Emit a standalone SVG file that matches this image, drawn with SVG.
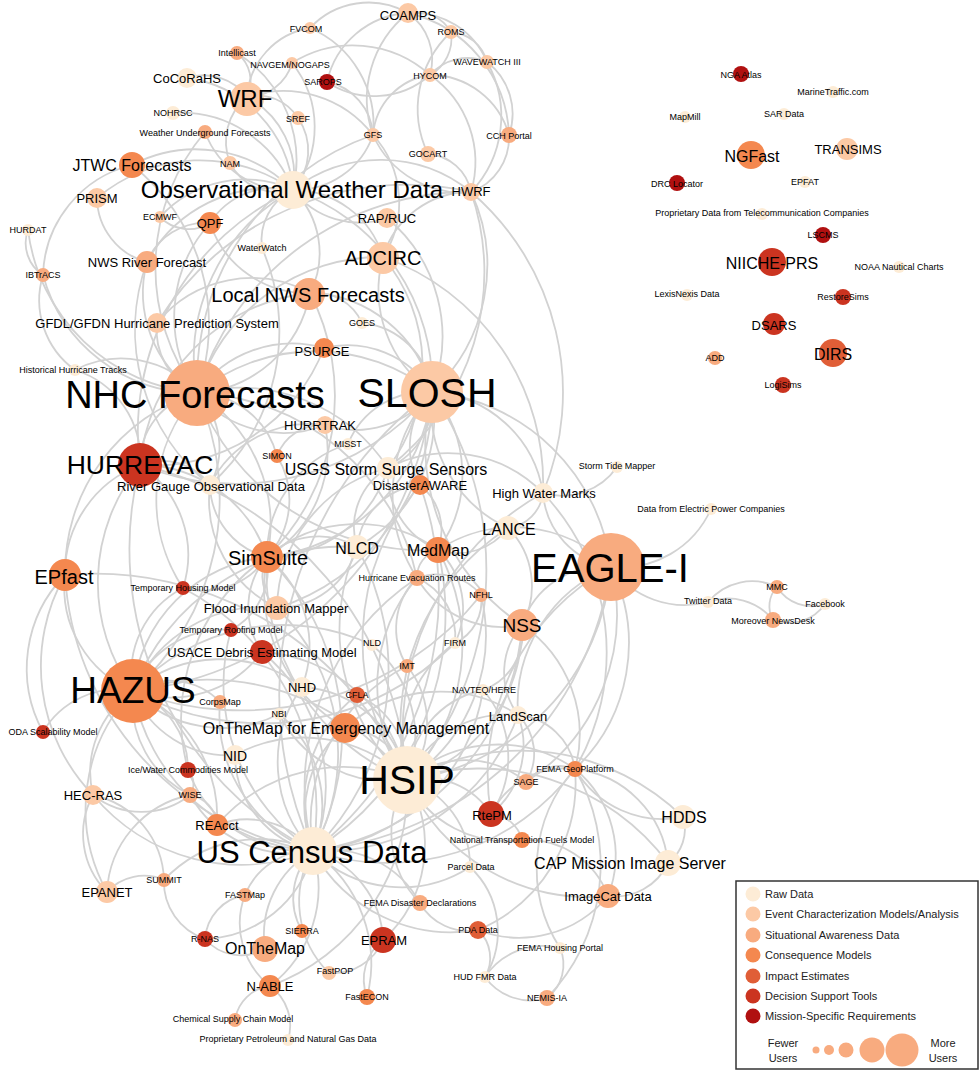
<svg xmlns="http://www.w3.org/2000/svg" width="980" height="1071" viewBox="0 0 980 1071">
<style>
.bg{fill:#fff}
#edges path{fill:none;stroke:#d2d2d2;stroke-width:1.8;stroke-linecap:round}
.raw{fill:#fdecd6}.evt{fill:#fcc9a5}.sit{fill:#f8ab7f}.con{fill:#f4884f}.imp{fill:#e05e37}.dec{fill:#cb3420}.mis{fill:#b01010}
text{font-family:"Liberation Sans",Arial,sans-serif;text-anchor:middle;dominant-baseline:central;fill:#000}
.s9{font-size:9px}.s13{font-size:13px}.s16{font-size:16px}.s20{font-size:20px}
.lg{font-size:11px;text-anchor:start;fill:#222}.lc{font-size:11px;fill:#222}
</style>
<rect class="bg" width="980" height="1071"/>
<g id="edges">
<path d="M310 28A80 80 0 0 1 408 13"/><path d="M408 13A40 40 0 0 1 451 32"/><path d="M451 32A40 40 0 0 1 487 62"/><path d="M408 13A80 80 0 0 1 487 62"/><path d="M408 13A57 57 0 0 1 430 75"/><path d="M451 32A42 42 0 0 1 430 75"/><path d="M430 75A50 50 0 0 1 487 62"/><path d="M292 63A115 115 0 0 1 430 75"/><path d="M327 82A88 88 0 0 1 408 13"/><path d="M327 82A85 85 0 0 0 430 75"/>
<path d="M487 62A65 65 0 0 1 509 135"/><path d="M408 13A130 130 0 0 1 509 135"/><path d="M430 75A82 82 0 0 1 509 135"/><path d="M310 28A105 105 0 0 1 373 135"/><path d="M408 13A110 110 0 0 0 373 135"/><path d="M430 75A66 66 0 0 0 373 135"/><path d="M451 32A105 105 0 0 0 428 154"/><path d="M430 75A106 106 0 0 1 471 192"/><path d="M487 62A110 110 0 0 1 471 192"/><path d="M509 135A58 58 0 0 1 471 192"/>
<path d="M373 135A97 97 0 0 0 471 192"/><path d="M428 154A47 47 0 0 1 471 192"/><path d="M373 135A82 82 0 0 1 293 190"/><path d="M247 97A89 89 0 0 1 293 190"/><path d="M247 97A113 113 0 0 1 373 135"/><path d="M247 97A58 58 0 0 0 230 163"/><path d="M247 97A47 47 0 0 1 298 118"/><path d="M187 78A54 54 0 0 1 247 97"/><path d="M237 53A36 36 0 0 1 247 97"/><path d="M292 63A47 47 0 0 1 247 97"/>
<path d="M310 28A75 75 0 0 0 247 97"/><path d="M173 113A120 120 0 0 1 293 190"/><path d="M205 132A89 89 0 0 0 293 190"/><path d="M205 132A210 210 0 0 0 197 393"/><path d="M132 165A203 203 0 0 1 197 393"/><path d="M132 165A117 117 0 0 0 43 275"/><path d="M28 230A38 38 0 0 0 43 275"/><path d="M43 275A86 86 0 0 0 75 370"/><path d="M43 275A160 160 0 0 0 197 393"/><path d="M28 230A187 187 0 0 0 197 393"/>
<path d="M97 198A160 160 0 0 1 293 190"/><path d="M97 198A67 67 0 0 0 147 262"/><path d="M160 217A115 115 0 0 1 293 190"/><path d="M160 217A40 40 0 0 0 210 223"/><path d="M210 223A77 77 0 0 1 293 190"/><path d="M210 223A63 63 0 0 0 147 262"/><path d="M210 223A140 140 0 0 0 197 393"/><path d="M210 223A102 102 0 0 0 310 293"/><path d="M147 262A140 140 0 0 1 293 190"/><path d="M147 262A120 120 0 0 0 197 393"/>
<path d="M147 262A198 198 0 0 0 210 485"/><path d="M262 248A206 206 0 0 1 210 485"/><path d="M262 248A56 56 0 0 1 293 190"/><path d="M293 190A88 88 0 0 1 310 293"/><path d="M293 190A193 193 0 0 0 197 393"/><path d="M293 190A143 143 0 0 1 471 192"/><path d="M293 190A84 84 0 0 0 387 218"/><path d="M293 190A94 94 0 0 1 383 257"/><path d="M293 190A206 206 0 0 1 432 392"/><path d="M293 190A265 265 0 0 0 140 465"/>
<path d="M310 293A122 122 0 0 1 197 393"/><path d="M310 293A190 190 0 0 0 140 465"/><path d="M310 293A130 130 0 0 1 432 392"/><path d="M310 293A51 51 0 0 1 362 323"/><path d="M310 293A225 225 0 0 1 267 557"/><path d="M157 323A69 69 0 0 0 197 393"/><path d="M157 323A122 122 0 0 1 310 293"/><path d="M157 323A293 293 0 0 1 471 192"/><path d="M373 135A262 262 0 0 0 197 393"/><path d="M373 135A100 100 0 0 1 383 257"/>
<path d="M471 192A173 173 0 0 1 432 392"/><path d="M471 192A91 91 0 0 0 383 257"/><path d="M471 192A283 283 0 0 0 197 393"/><path d="M471 192A264 264 0 0 1 543 493"/><path d="M471 192A247 247 0 0 1 388 468"/><path d="M387 218A154 154 0 0 1 432 392"/><path d="M383 257A124 124 0 0 0 432 392"/><path d="M383 257A192 192 0 0 0 197 393"/><path d="M383 257A169 169 0 0 1 388 468"/><path d="M383 257A240 240 0 0 1 543 493"/>
<path d="M362 323A78 78 0 0 1 432 392"/><path d="M324 348A100 100 0 0 1 432 392"/><path d="M324 348A116 116 0 0 0 197 393"/><path d="M324 348A183 183 0 0 1 140 465"/><path d="M197 393A188 188 0 0 1 432 392"/><path d="M197 393A72 72 0 0 0 140 465"/><path d="M197 393A113 113 0 0 0 325 425"/><path d="M197 393A154 154 0 0 1 267 557"/><path d="M197 393A257 257 0 0 1 133 691"/><path d="M197 393A188 188 0 0 0 65 575"/>
<path d="M197 393A160 160 0 0 0 183 588"/><path d="M197 393A100 100 0 0 0 75 370"/><path d="M197 393A78 78 0 0 1 210 485"/><path d="M197 393A84 84 0 0 1 277 456"/><path d="M197 393A243 243 0 0 0 438 550"/><path d="M197 393A177 177 0 0 1 388 468"/><path d="M197 393A235 235 0 0 1 417 578"/><path d="M432 392A255 255 0 0 1 140 465"/><path d="M432 392A96 96 0 0 1 325 425"/><path d="M432 392A84 84 0 0 0 348 444"/>
<path d="M432 392A75 75 0 0 1 388 468"/><path d="M432 392A78 78 0 0 0 420 485"/><path d="M432 392A120 120 0 0 1 543 493"/><path d="M432 392A133 133 0 0 0 508 528"/><path d="M432 392A128 128 0 0 1 438 550"/><path d="M432 392A154 154 0 0 0 417 578"/><path d="M432 392A148 148 0 0 1 357 547"/><path d="M432 392A185 185 0 0 1 267 557"/><path d="M432 392A335 335 0 0 1 133 691"/><path d="M432 392A318 318 0 0 1 407 780"/>
<path d="M432 392A222 222 0 0 1 277 608"/><path d="M432 392A200 200 0 0 1 611 567"/><path d="M432 392A215 215 0 0 0 522 625"/><path d="M432 392A377 377 0 0 0 313 851"/><path d="M140 465A116 116 0 0 0 65 575"/><path d="M140 465A185 185 0 0 0 133 691"/><path d="M140 465A133 133 0 0 1 267 557"/><path d="M140 465A60 60 0 0 1 210 485"/><path d="M140 465A340 340 0 0 0 313 851"/><path d="M140 465A342 342 0 0 1 407 780"/>
<path d="M325 425A48 48 0 0 0 277 456"/><path d="M325 425A124 124 0 0 1 267 557"/><path d="M277 456A84 84 0 0 1 267 557"/><path d="M210 485A76 76 0 0 0 267 557"/><path d="M210 485A120 120 0 0 0 277 608"/><path d="M388 468A132 132 0 0 1 543 493"/><path d="M388 468A147 147 0 0 0 277 608"/><path d="M388 468A126 126 0 0 1 267 557"/><path d="M388 468A82 82 0 0 0 438 550"/><path d="M420 485A58 58 0 0 1 438 550"/>
<path d="M420 485A240 240 0 0 0 407 780"/><path d="M420 485A325 325 0 0 1 313 851"/><path d="M543 493A67 67 0 0 0 617 467"/><path d="M543 493A40 40 0 0 1 508 528"/><path d="M543 493A81 81 0 0 0 611 567"/><path d="M543 493A231 231 0 0 1 575 769"/><path d="M543 493A273 273 0 0 0 407 780"/><path d="M508 528A63 63 0 0 1 438 550"/><path d="M508 528A82 82 0 0 1 522 625"/><path d="M508 528A234 234 0 0 0 407 780"/>
<path d="M611 567A99 99 0 0 0 711 509"/><path d="M611 567A90 90 0 0 0 708 602"/><path d="M708 602A57 57 0 0 1 777 587"/><path d="M708 602A58 58 0 0 1 773 620"/><path d="M777 587A28 28 0 0 0 773 620"/><path d="M777 587A41 41 0 0 0 825 604"/><path d="M825 604A44 44 0 0 1 773 620"/><path d="M611 567A84 84 0 0 0 522 625"/><path d="M611 567A138 138 0 0 0 438 550"/><path d="M611 567A235 235 0 0 1 407 780"/>
<path d="M611 567A173 173 0 0 1 575 769"/><path d="M611 567A148 148 0 0 0 518 715"/><path d="M611 567A199 199 0 0 1 526 782"/><path d="M611 567A236 236 0 0 0 491 814"/><path d="M611 567A333 333 0 0 1 313 851"/><path d="M438 550A194 194 0 0 1 407 780"/><path d="M438 550A28 28 0 0 0 417 578"/><path d="M438 550A278 278 0 0 1 313 851"/><path d="M438 550A139 139 0 0 0 267 557"/><path d="M417 578A165 165 0 0 0 407 780"/>
<path d="M417 578A57 57 0 0 1 481 595"/><path d="M417 578A250 250 0 0 0 313 851"/><path d="M417 578A99 99 0 0 0 522 625"/><path d="M481 595A46 46 0 0 1 455 643"/><path d="M481 595A172 172 0 0 1 407 780"/><path d="M481 595A308 308 0 0 1 133 691"/><path d="M522 625A160 160 0 0 1 407 780"/><path d="M522 625A132 132 0 0 1 575 769"/><path d="M522 625A72 72 0 0 0 518 715"/><path d="M522 625A245 245 0 0 1 313 851"/>
<path d="M522 625A60 60 0 0 1 483 690"/><path d="M357 547A224 224 0 0 0 133 691"/><path d="M357 547A75 75 0 0 0 267 557"/><path d="M357 547A255 255 0 0 1 313 851"/><path d="M357 547A202 202 0 0 0 407 780"/><path d="M357 547A83 83 0 0 1 277 608"/><path d="M267 557A150 150 0 0 0 133 691"/><path d="M267 557A248 248 0 0 1 313 851"/><path d="M267 557A223 223 0 0 0 407 780"/><path d="M267 557A77 77 0 0 1 183 588"/>
<path d="M267 557A42 42 0 0 0 277 608"/><path d="M267 557A70 70 0 0 1 231 630"/><path d="M267 557A78 78 0 0 0 262 652"/><path d="M267 557A162 162 0 0 0 345 728"/><path d="M267 557A115 115 0 0 1 302 687"/><path d="M267 557A196 196 0 0 0 188 770"/><path d="M65 575A112 112 0 0 0 133 691"/><path d="M65 575A298 298 0 0 0 313 851"/><path d="M65 575A340 340 0 0 1 407 780"/><path d="M183 588A96 96 0 0 0 133 691"/>
<path d="M183 588A250 250 0 0 1 313 851"/><path d="M277 608A141 141 0 0 0 133 691"/><path d="M277 608A203 203 0 0 1 313 851"/><path d="M231 630A200 200 0 0 0 313 851"/><path d="M231 630A97 97 0 0 0 133 691"/><path d="M262 652A114 114 0 0 1 133 691"/><path d="M262 652A173 173 0 0 1 313 851"/><path d="M262 652A157 157 0 0 1 407 780"/><path d="M372 645A119 119 0 0 1 407 780"/><path d="M372 645A205 205 0 0 0 133 691"/>
<path d="M455 643A272 272 0 0 1 133 691"/><path d="M455 643A125 125 0 0 0 407 780"/><path d="M407 666A91 91 0 0 1 407 780"/><path d="M407 666A176 176 0 0 0 313 851"/><path d="M357 695A84 84 0 0 1 407 780"/><path d="M357 695A137 137 0 0 0 313 851"/><path d="M483 690A96 96 0 0 0 407 780"/><path d="M483 690A102 102 0 0 1 491 814"/><path d="M483 690A190 190 0 0 1 313 851"/><path d="M133 691A195 195 0 0 0 313 851"/>
<path d="M133 691A249 249 0 0 1 407 780"/><path d="M133 691A98 98 0 0 0 93 795"/><path d="M133 691A86 86 0 0 0 43 732"/><path d="M133 691A70 70 0 0 1 220 702"/><path d="M133 691A135 135 0 0 1 302 687"/><path d="M133 691A103 103 0 0 0 235 755"/><path d="M133 691A83 83 0 0 1 188 770"/><path d="M133 691A104 104 0 0 0 190 795"/><path d="M133 691A137 137 0 0 1 217 825"/><path d="M133 691A171 171 0 0 0 107 892"/>
<path d="M133 691A125 125 0 0 0 279 714"/><path d="M220 702A146 146 0 0 0 313 851"/><path d="M302 687A114 114 0 0 1 407 780"/><path d="M302 687A129 129 0 0 0 313 851"/><path d="M279 714A123 123 0 0 0 407 780"/><path d="M279 714A118 118 0 0 1 313 851"/><path d="M345 728A66 66 0 0 1 407 780"/><path d="M345 728A106 106 0 0 0 313 851"/><path d="M345 728A142 142 0 0 1 518 715"/><path d="M235 755A99 99 0 0 0 313 851"/>
<path d="M235 755A146 146 0 0 1 407 780"/><path d="M188 770A125 125 0 0 0 313 851"/><path d="M188 770A20 20 0 0 1 190 795"/><path d="M93 795A78 78 0 0 0 190 795"/><path d="M93 795A82 82 0 0 0 107 892"/><path d="M93 795A193 193 0 0 0 313 851"/><path d="M190 795A115 115 0 0 0 313 851"/><path d="M190 795A32 32 0 0 1 217 825"/><path d="M190 795A104 104 0 0 0 107 892"/><path d="M217 825A84 84 0 0 1 313 851"/>
<path d="M217 825A166 166 0 0 1 407 780"/><path d="M107 892A50 50 0 0 1 164 880"/><path d="M164 880A130 130 0 0 1 313 851"/><path d="M164 880A60 60 0 0 0 205 939"/><path d="M93 795A90 90 0 0 1 164 880"/><path d="M205 939A48 48 0 0 1 245 895"/><path d="M205 939A115 115 0 0 0 313 851"/><path d="M205 939A48 48 0 0 0 265 949"/><path d="M245 895A70 70 0 0 1 313 851"/><path d="M245 895A80 80 0 0 0 270 986"/>
<path d="M302 931A66 66 0 0 1 313 851"/><path d="M265 949A96 96 0 0 1 313 851"/><path d="M270 986A124 124 0 0 0 313 851"/><path d="M270 986A40 40 0 0 0 235 1020"/><path d="M270 986A49 49 0 0 1 288 1040"/><path d="M270 986A209 209 0 0 0 407 780"/><path d="M329 973A54 54 0 0 0 383 940"/><path d="M367 997A50 50 0 0 1 383 940"/><path d="M383 940A96 96 0 0 0 313 851"/><path d="M383 940A128 128 0 0 0 407 780"/>
<path d="M329 973A100 100 0 0 1 313 851"/><path d="M367 997A137 137 0 0 0 313 851"/><path d="M420 903A103 103 0 0 0 313 851"/><path d="M420 903A55 55 0 0 0 478 930"/><path d="M420 903A99 99 0 0 1 407 780"/><path d="M478 930A115 115 0 0 0 608 896"/><path d="M478 930A38 38 0 0 1 485 977"/><path d="M478 930A160 160 0 0 0 575 769"/><path d="M478 930A158 158 0 0 1 313 851"/><path d="M485 977A70 70 0 0 1 560 948"/>
<path d="M485 977A56 56 0 0 0 547 998"/><path d="M560 948A42 42 0 0 1 547 998"/><path d="M560 948A148 148 0 0 1 575 769"/><path d="M547 998A192 192 0 0 0 575 769"/><path d="M470 867A90 90 0 0 0 407 780"/><path d="M470 867A126 126 0 0 1 313 851"/><path d="M470 867A88 88 0 0 1 485 977"/><path d="M522 840A34 34 0 0 0 491 814"/><path d="M522 840A111 111 0 0 1 407 780"/><path d="M491 814A78 78 0 0 0 407 780"/>
<path d="M491 814A88 88 0 0 0 518 715"/><path d="M491 814A82 82 0 0 1 575 769"/><path d="M526 782A95 95 0 0 0 407 780"/><path d="M526 782A43 43 0 0 1 575 769"/><path d="M526 782A54 54 0 0 0 518 715"/><path d="M518 715A110 110 0 0 0 407 780"/><path d="M518 715A63 63 0 0 1 575 769"/><path d="M518 715A206 206 0 0 1 313 851"/><path d="M575 769A134 134 0 0 0 407 780"/><path d="M575 769A102 102 0 0 0 683 817"/>
<path d="M575 769A105 105 0 0 1 668 863"/><path d="M575 769A112 112 0 0 1 608 896"/><path d="M575 769A235 235 0 0 1 313 851"/><path d="M683 817A42 42 0 0 1 668 863"/><path d="M668 863A58 58 0 0 1 608 896"/><path d="M608 896A86 86 0 0 0 522 840"/><path d="M608 896A198 198 0 0 1 407 780"/><path d="M668 863A235 235 0 0 0 407 780"/><path d="M683 817A233 233 0 0 0 407 780"/><path d="M438 550A80 80 0 0 1 455 643"/>
<path d="M417 578A71 71 0 0 0 407 666"/><path d="M417 578A64 64 0 0 1 455 643"/><path d="M420 485A70 70 0 0 0 357 547"/><path d="M348 444A116 116 0 0 0 267 557"/><path d="M388 468A68 68 0 0 0 357 547"/><path d="M325 425A111 111 0 0 0 210 485"/><path d="M132 165A137 137 0 0 1 293 190"/><path d="M187 78A123 123 0 0 1 293 190"/><path d="M237 53A127 127 0 0 1 293 190"/><path d="M298 118A58 58 0 0 1 293 190"/>
<path d="M230 163A54 54 0 0 0 293 190"/><path d="M292 63A102 102 0 0 1 293 190"/><path d="M327 82A57 57 0 0 1 373 135"/><path d="M75 370A93 93 0 0 1 140 465"/><path d="M140 465A108 108 0 0 1 183 588"/><path d="M65 575A185 185 0 0 0 93 795"/><path d="M65 575A133 133 0 0 0 43 732"/>
</g>
<g id="nodes">
<g id="n-nhc"><circle class="sit" cx="197" cy="393" r="33"/><text x="195" y="395" font-size="38">NHC Forecasts</text></g>
<g id="n-slosh"><circle class="evt" cx="432" cy="392" r="31"/><text x="427" y="393" font-size="41">SLOSH</text></g>
<g id="n-eagle"><circle class="sit" cx="611" cy="567" r="34"/><text x="610" y="568" font-size="40">EAGLE-I</text></g>
<g id="n-hsip"><circle class="raw" cx="407" cy="780" r="34"/><text x="407" y="780" font-size="41">HSIP</text></g>
<g id="n-hazus"><circle class="con" cx="133" cy="691" r="32"/><text x="133" y="690" font-size="37">HAZUS</text></g>
<g id="n-usc"><circle class="raw" cx="313" cy="851" r="24"/><text x="312" y="852" font-size="31">US Census Data</text></g>
<g id="n-hurrevac"><circle class="dec" cx="140" cy="465" r="22"/><text x="140" y="465" font-size="26.5">HURREVAC</text></g>
<g id="n-owd"><circle class="raw" cx="293" cy="190" r="19"/><text x="292" y="189" font-size="24">Observational Weather Data</text></g>
<g id="n-lnws"><circle class="sit" cx="309" cy="294" r="16"/><text x="308" y="295" class="s20">Local NWS Forecasts</text></g>
<g id="n-adcirc"><circle class="evt" cx="383" cy="258" r="16"/><text x="383" y="258" class="s20">ADCIRC</text></g>
<g id="n-wrf"><circle class="evt" cx="247" cy="99" r="17"/><text x="245" y="98" font-size="24">WRF</text></g>
<g id="n-simsuite"><circle class="con" cx="267" cy="557" r="16"/><text x="268" y="558" class="s20">SimSuite</text></g>
<g id="n-epfast"><circle class="con" cx="65" cy="575" r="16"/><text x="64" y="577" class="s20">EPfast</text></g>
<g id="n-nss"><circle class="sit" cx="522" cy="625" r="16"/><text x="522" y="625" font-size="19">NSS</text></g>
<g id="n-otmem"><circle class="con" cx="345" cy="728" r="15"/><text x="346" y="728" class="s16">OnTheMap for Emergency Management</text></g>
<g id="n-ngfast"><circle class="con" cx="751" cy="155" r="14"/><text x="752" y="156" class="s16">NGFast</text></g>
<g id="n-niiche"><circle class="dec" cx="772" cy="262" r="14"/><text x="772" y="263" class="s16">NIICHE-PRS</text></g>
<g id="n-dirs"><circle class="imp" cx="833" cy="353" r="14"/><text x="833" y="354" class="s16">DIRS</text></g>
<g id="n-otm"><circle class="sit" cx="265" cy="949" r="13"/><text x="265" y="948" class="s16">OnTheMap</text></g>
<g id="n-medmap"><circle class="con" cx="438" cy="550" r="13"/><text x="438" y="550" class="s16">MedMap</text></g>
<g id="n-jtwc"><circle class="con" cx="132" cy="165" r="13"/><text x="132" y="165" class="s16">JTWC Forecasts</text></g>
<g id="n-cap"><circle class="raw" cx="668" cy="863" r="13"/><text x="630" y="863" class="s16">CAP Mission Image Server</text></g>
<g id="n-hdds"><circle class="raw" cx="683" cy="817" r="12"/><text x="684" y="817" class="s16">HDDS</text></g>
<g id="n-lance"><circle class="raw" cx="508" cy="528" r="12"/><text x="509" y="529" class="s16">LANCE</text></g>
<g id="n-nlcd"><circle class="raw" cx="357" cy="547" r="12"/><text x="357" y="548" class="s16">NLCD</text></g>
<g id="n-usgs"><circle class="raw" cx="388" cy="468" r="11"/><text x="386" y="469" class="s16">USGS Storm Surge Sensors</text></g>
<g id="n-rtepm"><circle class="dec" cx="491" cy="814" r="13"/><text x="492" y="815" class="s13">RtePM</text></g>
<g id="n-epram"><circle class="dec" cx="383" cy="940" r="13"/><text x="384" y="940" class="s13">EPRAM</text></g>
<g id="n-imagecat"><circle class="sit" cx="608" cy="896" r="12"/><text x="608" y="896" class="s13">ImageCat Data</text></g>
<g id="n-hwm"><circle class="raw" cx="543" cy="493" r="10"/><text x="544" y="493" class="s13">High Water Marks</text></g>
<g id="n-fim"><circle class="evt" cx="277" cy="608" r="12"/><text x="276" y="608" class="s13">Flood Inundation Mapper</text></g>
<g id="n-usace"><circle class="dec" cx="262" cy="652" r="12"/><text x="262" y="652" class="s13">USACE Debris Estimating Model</text></g>
<g id="n-transims"><circle class="evt" cx="847" cy="149" r="11"/><text x="848" y="149" class="s13">TRANSIMS</text></g>
<g id="n-dsars"><circle class="dec" cx="774" cy="324" r="11"/><text x="774" y="325" class="s13">DSARS</text></g>
<g id="n-cocorahs"><circle class="raw" cx="187" cy="78" r="10"/><text x="187" y="78" class="s13">CoCoRaHS</text></g>
<g id="n-coamps"><circle class="evt" cx="408" cy="13" r="10"/><text x="408" y="15" class="s13">COAMPS</text></g>
<g id="n-prism"><circle class="evt" cx="97" cy="198" r="10"/><text x="97" y="198" class="s13">PRISM</text></g>
<g id="n-qpf"><circle class="con" cx="210" cy="223" r="11"/><text x="210" y="223" class="s13">QPF</text></g>
<g id="n-nwsrf"><circle class="sit" cx="147" cy="262" r="11"/><text x="147" y="262" class="s13">NWS River Forecast</text></g>
<g id="n-gfdl"><circle class="evt" cx="157" cy="323" r="10"/><text x="157" y="323" class="s13">GFDL/GFDN Hurricane Prediction System</text></g>
<g id="n-raprus"><circle class="evt" cx="387" cy="218" r="10"/><text x="387" y="218" class="s13">RAP/RUC</text></g>
<g id="n-hwrf"><circle class="evt" cx="471" cy="192" r="9"/><text x="471" y="191" class="s13">HWRF</text></g>
<g id="n-psurge"><circle class="con" cx="324" cy="348" r="10"/><text x="322" y="351" class="s13">PSURGE</text></g>
<g id="n-hurrtrak"><circle class="evt" cx="325" cy="425" r="9"/><text x="320" y="425" class="s13">HURRTRAK</text></g>
<g id="n-rg"><circle class="raw" cx="210" cy="485" r="10"/><text x="211" y="486" class="s13">River Gauge Observational Data</text></g>
<g id="n-daware"><circle class="con" cx="420" cy="485" r="10"/><text x="420" y="485" class="s13">DisasterAWARE</text></g>
<g id="n-nhd"><circle class="raw" cx="302" cy="687" r="10"/><text x="302" y="687" class="s13">NHD</text></g>
<g id="n-nid"><circle class="raw" cx="235" cy="755" r="10"/><text x="235" y="756" font-size="14">NID</text></g>
<g id="n-hecras"><circle class="evt" cx="93" cy="795" r="10"/><text x="93" y="795" class="s13">HEC-RAS</text></g>
<g id="n-reacct"><circle class="con" cx="217" cy="825" r="11"/><text x="217" y="825" class="s13">REAcct</text></g>
<g id="n-epanet"><circle class="evt" cx="107" cy="892" r="11"/><text x="107" y="892" class="s13">EPANET</text></g>
<g id="n-nable"><circle class="con" cx="270" cy="986" r="11"/><text x="270" y="986" class="s13">N-ABLE</text></g>
<g id="n-landscan"><circle class="raw" cx="518" cy="715" r="9"/><text x="518" y="716" class="s13">LandScan</text></g>
<g id="n-fvcom"><circle class="evt" cx="310" cy="28" r="6"/><text x="306" y="29" class="s9">FVCOM</text></g>
<g id="n-intellicast"><circle class="sit" cx="237" cy="53" r="7"/><text x="237" y="53" class="s9">Intellicast</text></g>
<g id="n-navgem"><circle class="evt" cx="292" cy="63" r="6"/><text x="290" y="65" class="s9">NAVGEM/NOGAPS</text></g>
<g id="n-sarops"><circle class="mis" cx="327" cy="82" r="8"/><text x="323" y="82" class="s9">SAROPS</text></g>
<g id="n-nohrsc"><circle class="raw" cx="173" cy="113" r="7"/><text x="173" y="113" class="s9">NOHRSC</text></g>
<g id="n-sref"><circle class="evt" cx="298" cy="118" r="7"/><text x="298" y="119" class="s9">SREF</text></g>
<g id="n-wu"><circle class="sit" cx="205" cy="132" r="7"/><text x="205" y="133" class="s9">Weather Underground Forecasts</text></g>
<g id="n-nam"><circle class="evt" cx="230" cy="163" r="7"/><text x="230" y="164" class="s9">NAM</text></g>
<g id="n-ecmwf"><circle class="evt" cx="160" cy="217" r="6"/><text x="160" y="217" class="s9">ECMWF</text></g>
<g id="n-hurdat"><circle class="raw" cx="28" cy="230" r="6"/><text x="28" y="230" class="s9">HURDAT</text></g>
<g id="n-waterwatch"><circle class="raw" cx="262" cy="248" r="6"/><text x="262" y="248" class="s9">WaterWatch</text></g>
<g id="n-ibtracs"><circle class="sit" cx="43" cy="275" r="7"/><text x="43" y="275" class="s9">IBTrACS</text></g>
<g id="n-roms"><circle class="evt" cx="451" cy="32" r="7"/><text x="451" y="32" class="s9">ROMS</text></g>
<g id="n-ww3"><circle class="evt" cx="487" cy="62" r="7"/><text x="487" y="62" class="s9">WAVEWATCH III</text></g>
<g id="n-hycom"><circle class="evt" cx="430" cy="75" r="7"/><text x="430" y="76" class="s9">HYCOM</text></g>
<g id="n-gfs"><circle class="evt" cx="373" cy="135" r="7"/><text x="373" y="135" class="s9">GFS</text></g>
<g id="n-cch"><circle class="sit" cx="509" cy="135" r="8"/><text x="509" y="136" class="s9">CCH Portal</text></g>
<g id="n-gocart"><circle class="evt" cx="428" cy="154" r="8"/><text x="428" y="154" class="s9">GOCART</text></g>
<g id="n-goes"><circle class="raw" cx="362" cy="323" r="6"/><text x="362" y="323" class="s9">GOES</text></g>
<g id="n-hht"><circle class="raw" cx="75" cy="370" r="6"/><text x="73" y="370" class="s9">Historical Hurricane Tracks</text></g>
<g id="n-misst"><circle class="raw" cx="348" cy="444" r="6"/><text x="348" y="444" class="s9">MISST</text></g>
<g id="n-simon"><circle class="con" cx="277" cy="456" r="7"/><text x="277" y="456" class="s9">SIMON</text></g>
<g id="n-stm"><circle class="raw" cx="617" cy="467" r="6"/><text x="617" y="466" class="s9">Storm Tide Mapper</text></g>
<g id="n-her"><circle class="sit" cx="417" cy="578" r="8"/><text x="417" y="578" class="s9">Hurricane Evacuation Routes</text></g>
<g id="n-nfhl"><circle class="sit" cx="481" cy="595" r="7"/><text x="481" y="595" class="s9">NFHL</text></g>
<g id="n-thm"><circle class="dec" cx="183" cy="588" r="7"/><text x="183" y="588" class="s9">Temporary Housing Model</text></g>
<g id="n-trm"><circle class="dec" cx="231" cy="630" r="7"/><text x="231" y="630" class="s9">Temporary Roofing Model</text></g>
<g id="n-nld"><circle class="raw" cx="372" cy="645" r="6"/><text x="372" y="643" class="s9">NLD</text></g>
<g id="n-firm"><circle class="raw" cx="455" cy="643" r="6"/><text x="455" y="643" class="s9">FIRM</text></g>
<g id="n-imt"><circle class="sit" cx="407" cy="666" r="7"/><text x="407" y="666" class="s9">IMT</text></g>
<g id="n-corpsmap"><circle class="sit" cx="220" cy="702" r="7"/><text x="220" y="702" class="s9">CorpsMap</text></g>
<g id="n-cfla"><circle class="imp" cx="357" cy="695" r="8"/><text x="357" y="695" class="s9">CFLA</text></g>
<g id="n-navteq"><circle class="raw" cx="483" cy="690" r="6"/><text x="484" y="690" class="s9">NAVTEQ/HERE</text></g>
<g id="n-nbi"><circle class="raw" cx="279" cy="714" r="6"/><text x="279" y="714" class="s9">NBI</text></g>
<g id="n-oda"><circle class="dec" cx="43" cy="732" r="7"/><text x="53" y="732" class="s9">ODA Scalability Model</text></g>
<g id="n-ice"><circle class="dec" cx="188" cy="770" r="8"/><text x="188" y="770" class="s9">Ice/Water Commodities Model</text></g>
<g id="n-wise"><circle class="sit" cx="190" cy="795" r="8"/><text x="190" y="795" class="s9">WISE</text></g>
<g id="n-femageo"><circle class="con" cx="575" cy="769" r="8"/><text x="575" y="769" class="s9">FEMA GeoPlatform</text></g>
<g id="n-sage"><circle class="sit" cx="526" cy="782" r="8"/><text x="526" y="782" class="s9">SAGE</text></g>
<g id="n-ntfm"><circle class="con" cx="522" cy="840" r="8"/><text x="522" y="840" class="s9">National Transportation Fuels Model</text></g>
<g id="n-parcel"><circle class="raw" cx="470" cy="867" r="6"/><text x="471" y="867" class="s9">Parcel Data</text></g>
<g id="n-summit"><circle class="sit" cx="164" cy="880" r="7"/><text x="164" y="880" class="s9">SUMMIT</text></g>
<g id="n-fastmap"><circle class="sit" cx="245" cy="895" r="7"/><text x="245" y="895" class="s9">FASTMap</text></g>
<g id="n-femadd"><circle class="sit" cx="420" cy="903" r="8"/><text x="420" y="903" class="s9">FEMA Disaster Declarations</text></g>
<g id="n-pda"><circle class="imp" cx="478" cy="930" r="9"/><text x="478" y="930" class="s9">PDA Data</text></g>
<g id="n-sierra"><circle class="con" cx="302" cy="931" r="7"/><text x="302" y="931" class="s9">SIERRA</text></g>
<g id="n-rnas"><circle class="dec" cx="205" cy="939" r="8"/><text x="205" y="939" class="s9">R-NAS</text></g>
<g id="n-fhp"><circle class="raw" cx="560" cy="948" r="6"/><text x="560" y="948" class="s9">FEMA Housing Portal</text></g>
<g id="n-fastpop"><circle class="evt" cx="329" cy="973" r="7"/><text x="335" y="971" class="s9">FastPOP</text></g>
<g id="n-hud"><circle class="raw" cx="485" cy="977" r="6"/><text x="485" y="977" class="s9">HUD FMR Data</text></g>
<g id="n-fastecon"><circle class="con" cx="367" cy="997" r="8"/><text x="367" y="997" class="s9">FastECON</text></g>
<g id="n-nemis"><circle class="sit" cx="547" cy="998" r="8"/><text x="547" y="998" class="s9">NEMIS-IA</text></g>
<g id="n-cscm"><circle class="sit" cx="235" cy="1020" r="7"/><text x="233" y="1019" class="s9">Chemical Supply Chain Model</text></g>
<g id="n-ppng"><circle class="raw" cx="288" cy="1040" r="6"/><text x="288" y="1039" class="s9">Proprietary Petroleum and Natural Gas Data</text></g>
<g id="n-depc"><circle class="raw" cx="711" cy="509" r="6"/><text x="711" y="509" class="s9">Data from Electric Power Companies</text></g>
<g id="n-twitter"><circle class="raw" cx="708" cy="602" r="6"/><text x="708" y="601" class="s9">Twitter Data</text></g>
<g id="n-mmc"><circle class="sit" cx="777" cy="587" r="7"/><text x="777" y="587" class="s9">MMC</text></g>
<g id="n-facebook"><circle class="raw" cx="825" cy="604" r="6"/><text x="825" y="604" class="s9">Facebook</text></g>
<g id="n-moreover"><circle class="sit" cx="773" cy="620" r="8"/><text x="773" y="621" class="s9">Moreover NewsDesk</text></g>
<g id="n-nga"><circle class="mis" cx="741" cy="74" r="8"/><text x="741" y="75" class="s9">NGA Atlas</text></g>
<g id="n-marinetraffic"><circle class="raw" cx="833" cy="92" r="6"/><text x="833" y="92" class="s9">MarineTraffic.com</text></g>
<g id="n-mapmill"><circle class="raw" cx="685" cy="117" r="6"/><text x="685" y="117" class="s9">MapMill</text></g>
<g id="n-sardata"><circle class="raw" cx="784" cy="114" r="6"/><text x="784" y="114" class="s9">SAR Data</text></g>
<g id="n-drc"><circle class="mis" cx="677" cy="183" r="8"/><text x="677" y="184" class="s9">DRC Locator</text></g>
<g id="n-epfat"><circle class="raw" cx="805" cy="182" r="6"/><text x="805" y="182" class="s9">EPFAT</text></g>
<g id="n-telecom"><circle class="raw" cx="762" cy="214" r="6"/><text x="762" y="213" class="s9">Proprietary Data from Telecommunication Companies</text></g>
<g id="n-lscms"><circle class="mis" cx="823" cy="235" r="8"/><text x="823" y="235" class="s9">LSCMS</text></g>
<g id="n-noaa"><circle class="raw" cx="899" cy="267" r="6"/><text x="899" y="267" class="s9">NOAA Nautical Charts</text></g>
<g id="n-lexis"><circle class="raw" cx="687" cy="295" r="6"/><text x="687" y="294" class="s9">LexisNexis Data</text></g>
<g id="n-restoresims"><circle class="dec" cx="843" cy="297" r="8"/><text x="843" y="297" class="s9">RestoreSims</text></g>
<g id="n-add"><circle class="sit" cx="715" cy="358" r="7"/><text x="715" y="358" class="s9">ADD</text></g>
<g id="n-logisims"><circle class="dec" cx="783" cy="385" r="8"/><text x="783" y="385" class="s9">LogiSims</text></g>
</g>
<g id="legend">
<rect x="736" y="881" width="242" height="188" fill="#fff" stroke="#333" stroke-width="1.5"/>
<circle class="raw" cx="753" cy="894" r="7.5"/><text class="lg" x="765" y="894">Raw Data</text>
<circle class="evt" cx="753" cy="914" r="7.5"/><text class="lg" x="765" y="914">Event Characterization Models/Analysis</text>
<circle class="sit" cx="753" cy="935" r="7.5"/><text class="lg" x="765" y="935">Situational Awareness Data</text>
<circle class="con" cx="753" cy="955" r="7.5"/><text class="lg" x="765" y="955">Consequence Models</text>
<circle class="imp" cx="753" cy="976" r="7.5"/><text class="lg" x="765" y="976">Impact Estimates</text>
<circle class="dec" cx="753" cy="996" r="7.5"/><text class="lg" x="765" y="996">Decision Support Tools</text>
<circle class="mis" cx="753" cy="1016" r="7.5"/><text class="lg" x="765" y="1016">Mission-Specific Requirements</text>
<text class="lc" x="783" y="1043">Fewer</text><text class="lc" x="783" y="1058">Users</text>
<circle class="sit" cx="816" cy="1050" r="3.5"/><circle class="sit" cx="829" cy="1050" r="5"/><circle class="sit" cx="846" cy="1050" r="7.5"/><circle class="sit" cx="872" cy="1050" r="12.5"/><circle class="sit" cx="902" cy="1050" r="16.5"/>
<text class="lc" x="943" y="1043">More</text><text class="lc" x="943" y="1058">Users</text>
</g>
</svg>
